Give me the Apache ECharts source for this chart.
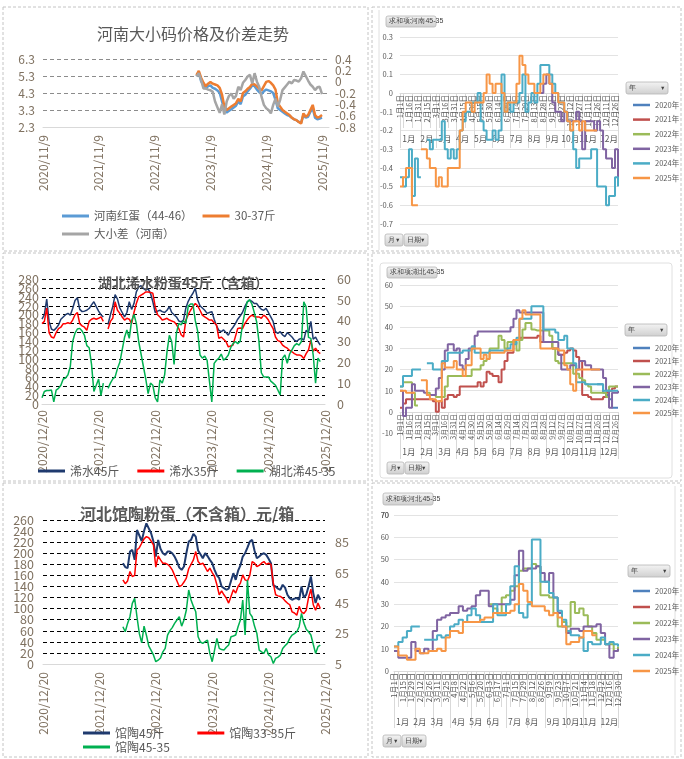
<!DOCTYPE html>
<html>
<head>
<meta charset="utf-8">
<script src="https://cdn.jsdelivr.net/npm/echarts@6/dist/echarts.min.js"></script>
<style>
html, body { margin: 0; padding: 0; background: #fff; }
#root { width: 684px; height: 759px; }
</style>
</head>
<body>
<div id="root"></div>
<script>
// ---- 河南大小码 (semi-monthly from 2020/11/9, values start at index 66)
var hnStart = 66;
var hnBig = [5.3, 5.5, 5.0, 4.75, 4.55, 4.7, 4.75, 4.6, 4.55, 4.45, 4.3, 3.8, 3.3, 3.15, 3.25, 3.35, 3.45, 3.55, 3.8, 3.65,
  4.1, 4.2, 4.4, 4.55, 4.75, 4.7, 4.5, 4.35, 4.25, 4.4, 4.5, 4.45, 4.4, 4.3, 3.9, 3.4, 3.3, 3.2, 3.1, 3.0,
  2.95, 2.85, 2.75, 2.7, 2.6, 2.55, 3.0, 2.85, 2.9, 3.2, 3.4, 2.85, 2.75, 2.8, 2.85];
var hnSmall = [5.35, 5.6, 5.2, 4.9, 4.7, 4.85, 4.95, 4.85, 4.8, 4.75, 4.6, 4.2, 3.5, 3.3, 3.4, 3.5, 3.6, 3.7, 3.95, 3.8,
  4.3, 4.4, 4.55, 4.65, 4.85, 4.8, 4.7, 4.55, 4.45, 4.7, 4.95, 5.0, 4.9, 4.75, 4.5, 3.7, 3.5, 3.3, 3.2, 3.1,
  3.0, 2.85, 2.75, 2.7, 2.6, 2.5, 3.1, 2.9, 3.0, 3.3, 3.6, 3.0, 2.85, 2.9, 3.0];
var hnDiff = [0.09, 0.15, 0.03, -0.12, -0.12, -0.14, -0.15, -0.18, -0.35, -0.45, -0.55, -0.4, -0.58, -0.35, -0.25, -0.21, -0.3, -0.25, -0.09, -0.15,
  -0.02, 0.03, 0.09, 0.12, -0.03, 0.15, 0.0, -0.09, -0.27, -0.41, -0.47, -0.5, -0.56, -0.41, -0.3, -0.44, -0.32, -0.15, -0.1, -0.05,
  0.0, -0.03, 0.03, 0.02, 0.0, 0.06, 0.18, 0.1, 0.02, -0.05, -0.09, -0.15, -0.1, -0.09, -0.22];

// ---- 湖北浠水 (semi-monthly from 2020/12/20)
var xsBig = [190, 200, 235, 185, 168, 165, 170, 177, 190, 195, 200, 203, 199, 214, 232, 238, 212, 207, 208, 210,
  214, 222, 229, 218, 208, 200, 195, null, 178, 200, 218, 245, 235, 215, 205, 195, 205, 229, 212, 225,
  251, 262, 265, 259, 255, 258, 248, 229, 205, 208, 210, 207, 205, 210, 218, 205, 200, 195, 186, 184,
  188, 215, 230, 240, 248, 259, 233, 220, 215, 210, 203, 205, 207, 190, 175, 165, 162, 166, 160, 154,
  165, 172, 180, 190, 197, 205, 218, 228, 233, 230, 225, 225, 218, 212, 210, 214, 205, 195, 185, 162,
  158, 162, 155, 151, 160, 155, 150, 143, 140, 145, 147, 143, 165, 160, 185, 145, 150, 140, 132];
var xsSmall = [180, 185, 215, 160, 150, 148, 160, 169, 172, 180, 180, 182, 180, 188, 200, 205, 180, 175, 172, 165,
  185, 190, 192, 190, 192, 195, 185, null, 168, 185, 192, 229, 210, 203, 195, 188, 192, 190, 180, 205,
  225, 240, 244, 247, 251, 251, 250, 248, 218, 200, 195, 188, 190, 192, 188, 186, 184, 178, 169, 155,
  150, 188, 200, 210, 218, 225, 220, 210, 199, 195, 192, 188, 188, 182, 177, 147, 150, 145, 140, 128,
  130, 132, 151, 169, 170, 169, 180, 188, 195, 199, 196, 195, 195, 192, 199, 195, 188, 178, 169, 150,
  142, 140, 132, 128, 125, 120, 117, 113, 110, 110, 108, 102, 113, 121, 143, 118, 125, 117, 113];
var xsDiff = [3, 6, 6.5, 6.5, 6.7, 1, 6.7, 7.5, 9, 12, 12.5, 14, 18, 30, 34, 36, 36.3, 35, 33, 28,
  27, 19, 6, 9, 12, 4, 10, null, 7.5, 10, 12, 13, 17, 20, 26, 32, 35.5, 31.5, 40, 43,
  38.7, 30, 24, 18, 12, 5, 10, 9, 3, 1, 11.5, 10, 14, 25, 33, 30, 19, 34, 38.7, 38,
  40, 38.7, 47, 48, 48, 40, 35, 23.5, 22, 23, 21, 11, 1, 19.5, 21, 22, 24, 21, 22, 23.5,
  27, 29, 30, 29, 30, 38, 44, 49, 50, 48, 44, 39.5, 30, 15, 13, 13, 13, 11, 10, 9,
  6.7, 4.3, 22, 23.5, 19.5, 24, 26, 28, 29, 28.3, 30, 49, 46.7, 32, 31.5, 23.5, 10, 22, 20.3];

// ---- 河北馆陶 (semi-monthly from 2020/12/20, values start at index 34)
var gtStart = 34;
var gtBig = [182, 175, 173, 203, 206, 188, 242, 232, 222, 240, 254, 245, 236, 221, 194, 224, 208, 200, 197, 203,
  203, 200, 194, 185, 174, 170, 176, 200, 221, 224, 235, 230, 205, 198, 191, 200, 195, 188, 182, 170,
  160, 155, 140, 137, 134, 136, 150, 164, 152, 168, 178, 194, 200, 210, 221, 224, 205, 191, 194, 198,
  200, 197, 190, 182, 142, 140, 136, 134, 143, 138, 125, 119, 116, 118, 119, 116, 140, 120, 125, 140,
  158, 128, 110, 125, 116];
var gtSmall = [152, 145, 150, 167, 158, 160, 206, 210, 218, 226, 230, 228, 222, 215, 175, 195, 188, 182, 182, 180,
  176, 170, 160, 150, 140, 142, 148, 155, 172, 180, 188, 203, 185, 180, 182, 175, 167, 173, 165, 158,
  143, 125, 132, 125, 119, 110, 122, 134, 128, 140, 146, 161, 152, 150, 160, 185, 182, 176, 178, 182,
  185, 180, 182, 180, 146, 125, 123, 122, 119, 114, 110, 107, 94, 92, 88, 104, 94, 91, 97, 120,
  135, 107, 97, 110, 100];
var gtDiff = [29.6, 26.3, 31.8, 36.2, 45, 48.3, 36, 25, 19, 30, 24, 17, 14, 11, 6.5, 7.5, 9, 13, 15.3, 24,
  27, 29, 31.8, 34, 36.2, 30, 34, 40.6, 53.8, 47.2, 43, 39.5, 23, 19.5, 18.6, 19.7, 20.8, 12, 6.5, 14.2,
  21.9, 15.3, 14.5, 14.2, 16, 17.5, 23, 23.5, 24.1, 29.6, 34, 47.2, 24.1, 60.4, 38.4, 36.2, 30, 25.2, 14.2, 13,
  12, 15.3, 11, 9.8, 5.4, 8.7, 9.5, 10.9, 15.3, 17, 18.6, 21.9, 24.1, 25, 26.3, 29.6, 38.4, 32, 28, 26.3,
  24.1, 18, 12, 16.4, 17.5];

// ---- 求和项:河南45-35 (every 5 days)
var hn2023Start = 46;
var hn2023 = [0.0, 0.0, 0.05, 0.1, 0.05, -0.05, -0.1, -0.1, -0.15, -0.1, -0.15, -0.15, -0.15, -0.1,
  -0.15, -0.3, -0.15, -0.15, -0.15, -0.2, -0.15, -0.2, -0.3, -0.35, -0.35, -0.4, -0.3, -0.45];
var hn2024 = [-0.45, -0.5, -0.45, -0.3, -0.55, -0.35, -0.45, null, null, -0.25, -0.3, -0.25, -0.25, -0.25, -0.15, -0.3, -0.35, -0.3, -0.35, -0.3,
  -0.2, -0.15, -0.1, -0.1, -0.05, -0.05, 0.0, -0.15, -0.2, -0.25, -0.25, -0.2, -0.25, -0.2, 0.1, -0.1, -0.05, -0.1, -0.05, -0.05,
  0.0, 0.1, -0.1, -0.05, 0.0, -0.05, 0.05, 0.15, 0.15, 0.15, 0.1, 0.05, 0.0, -0.05, -0.05, -0.1, -0.15, -0.2, -0.3, -0.4,
  -0.35, -0.35, -0.35, -0.35, -0.3, -0.3, -0.5, -0.5, -0.5, -0.6, -0.55, -0.55, -0.45, -0.5];
var hn2025 = [-0.5, -0.45, -0.4, -0.4, -0.6, -0.6, null, -0.3, -0.3, -0.35, -0.4, -0.4, -0.5, -0.45, -0.5, -0.5, -0.4, -0.4, -0.4, -0.4,
  -0.2, -0.1, -0.05, -0.05, -0.1, -0.05, -0.05, -0.05, 0.0, 0.1, 0.05, 0.0, 0.05, 0.05, 0.0, -0.1, -0.05, -0.05, -0.05, 0.05,
  0.2, 0.15, 0.1, 0.05, 0.05, 0.0, 0.0, 0.05, 0.1, 0.1, 0.05, 0.0, 0.0, -0.05, -0.05, -0.1, -0.15, -0.2, -0.15, -0.15,
  -0.2, -0.15, -0.2, -0.2, -0.2, -0.2];

// ---- 求和项:湖北45-35 (every 5 days)
var hub2020Start = 66;
var hub2020 = [13, 13, 9, 8, 6, 2, 2, 2];
var hub2021 = [2, 4, 6, 6, 6, 6, 6, 6, 6, 6, 6, 5, 0, 5, 2, 6, 8, 8, 7, 8,
  12, 12, 12, 12, 12, 12, 14, 12, 14, 19, 18, 17, 17, 14, 20, 24, 28, 28, 34, 34,
  35, 35, 35, 35, 35, 35, 36, 33, 33, 33, 33, 30, 30, 27, 27, 28, 29, 30, 29, 26,
  24, 8, 8, 7, 6, 6, 6, 6, 7, 9, 10, 11, 12, 12];
var hub2022 = [12, 14, 14, 14, 9, 3, null, null, null, 9, 8, 8, 7, 7, 7, 12, 17, 17, 17, 17,
  17, 17, 17, 17, 20, 20, 20, 22, 24, 25, 30, 30, 30, 36, 34, 30, 33, 33, 33, 29,
  34, 39, 42, 42, 39, 38.5, 38.5, 38.5, 38.5, 38.5, 36, 30, 24, 23, 23, 23, 23, 23, 18, 18,
  16, 15, 13, 12, 9, 9, 9, 9, 9, 7, 12, 12, 12, 12];
var hub2023 = [10, -2, 2, 2, 13, 10, 10, 10, 9, 8, 8, 8, 11, 16, 20, 29, 32, 32, 29, 30,
  22, 20, 25, 30, 30, 36, 38, 38, 38, 38, 38, 38, 38, 38, 38, 38, 38, 40, 44, 48,
  47, 47, 47, 47, 47, 47, 47, 47, 33, 33, 33, 33, 33, 27, 20, 20, 20, 22, 22, 20,
  24, 24, 22, 22, 20, 20, 20, 20, 16, 10, 2, 9, 9, 10];
var hub2024 = [12, 17, 17, 17, 20, 20, 20, null, null, 23, 23, 20, 20, 20, 24, 24, 28, 28, 28, 28,
  28, 29, 29, 29, 31, 28, 28, 28, 28, 28, 29, 29, 29, 29, 29, 29, 30, 32, 32, 35,
  44, 44, 44, 44, 50, 50, 50, 50, 39, 39, 39, 39, 37.5, 34, 34, 36, 30, 30, 23, 14,
  14, 14, 13, 13, 13, 13, 13, 13, 10, 10, 10, 10, 10, 10];
var hub2025 = [10, 10, 9, 9, 9, null, null, 15, 15, 8, 6, 6, 5, 5, 23, 21, 21, 21, 24, 20,
  20, 17, 22, 22, 30, 30, 30, 25, 27, 25, 28, 28, 28, 28, 28, 29, 29, 29, 34, 34,
  44, 48, 46, 46, 46, 46, 46, 30, 30, 30, 30, 30, 30, 29, 29, 22, 20, 13, 10, 20,
  20, 20, 20, 20, 20, 20, 20];

// ---- 求和项:河北45-35 (every 7 days)
var heb2022Start = 22;
var heb2022 = [30, 28, 26, 33, 34, 36, 38, 45, 46, 46, 48, 47, 34, 34, 33, 26, 20, 22, 20, 31,
  26, 28, 25, 20, 17, 14, 14, 12, 12, 9, 11];
var heb2023 = [9, 6, 6, 6, 13, 9, 8, 10, 9, 18, 23, 24, 25, 26, 26, 29, 27, 28, 29, 34,
  36, 36, 29, 30, 30, 30, 30, 32, 43, 54, 45, 46, 46, 47, 44, 40, 44, 33, 26, 20,
  17, 19, 19, 18, 20, 20, 20, 21, 17, 12, 6, 9, 10];
var heb2024 = [11, 13, 15, 18, 20, 20, null, 14, 14, 14, 16, 15, 16, 20, 21, 23, 22, 25, 28, 25,
  22, 22, 22, 30, 25, 25, 30, 38, 47, 26, 24, 30, 59, 59, 40, 40, 35, 33, 27, 23,
  18, 16, 16, 15, 9, 13, 12, 12, 15, 12, 13, 12, 11];
var heb2025 = [11, 7, 7, 5, 5, 10, 8, 8, 9, 9, 10, 9, 15, 18, 18, 17, 22, 22, 22, 22,
  23, 24, 24, 26, 26, 26, 26, 27, 30, 39, 36, 31, 29, 29, 29, 27, 25, 26, 24, 20,
  12, 13, 13, 15, 18, 18, 16];

var yearNames = ['2020年', '2021年', '2022年', '2023年', '2024年', '2025年'];
var yearColors = ['#4F81BD', '#C0504D', '#9BBB59', '#8064A2', '#4BACC6', '#F79646'];

function pad(start, vals, total) {
    var out = [];
    for (var i = 0; i < total; i++) {
        var j = i - start;
        out.push(j >= 0 && j < vals.length ? vals[j] : null);
    }
    return out;
}
function semiMonthly(y, m, d, n) {
    var out = [];
    for (var i = 0; i < n; i++) {
        var mm, dd;
        if (i % 2 === 0) { mm = m + i / 2; dd = d; }
        else if (d > 15) { mm = m + (i + 1) / 2; dd = d - 15; }
        else { mm = m + (i - 1) / 2; dd = d + 15; }
        var yy = y + Math.floor((mm - 1) / 12);
        mm = (mm - 1) % 12 + 1;
        out.push(yy + '/' + mm + '/' + dd);
    }
    return out;
}
function dayCats(step, n) {
    var out = [];
    for (var k = 0; k < n; k++) {
        var t = new Date(Date.UTC(2020, 0, 1 + k * step));
        out.push((t.getUTCMonth() + 1) + '月' + t.getUTCDate() + '日');
    }
    return out;
}
function monthMarks(cats) {
    var groups = {}, first = {}, mid = {};
    cats.forEach(function (c, k) {
        var m = parseInt(c, 10);
        (groups[m] = groups[m] || []).push(k);
    });
    Object.keys(groups).forEach(function (m) {
        var g = groups[m];
        first[g[0]] = true;
        mid[g[Math.floor((g.length - 1) / 2)]] = true;
    });
    first[cats.length - 1] = true;
    return { first: first, mid: mid };
}

var hnDates = semiMonthly(2020, 11, 9, 124);
var hbDates = semiMonthly(2020, 12, 20, 121);
var days5 = dayCats(5, 74);
var days7 = dayCats(7, 53);
var marks5 = monthMarks(days5);
var marks7 = monthMarks(days7);

var labelBrown = '#7f7160';
var gray = '#595959';

function lineSeries(name, x, y, data, color, width, step) {
    return {
        name: name, type: 'line', xAxisIndex: x, yAxisIndex: y, data: data,
        symbol: 'none', step: step || false, connectNulls: false,
        lineStyle: { color: color, width: width }, itemStyle: { color: color }
    };
}
function dashedSplit(color, count) {
    var cols = ['rgba(0,0,0,0)'];
    for (var i = 1; i < count; i++) cols.push(color);
    return { show: true, lineStyle: { color: cols, type: [4, 3], width: 1 } };
}
function hiddenX(grid, cats) {
    return { type: 'category', gridIndex: grid, data: cats, boundaryGap: false, show: false };
}
function dateAxis(grid, cats, fs, labelEvery, tickLen) {
    return {
        type: 'category', gridIndex: grid, data: cats, boundaryGap: false, position: 'bottom',
        axisLine: { show: true, onZero: false, lineStyle: { color: '#D9D9D9' } },
        axisTick: {
            show: true, length: tickLen, lineStyle: { color: '#D9D9D9' },
            interval: function (idx) { return idx % labelEvery === 1; }
        },
        axisLabel: { rotate: 90, interval: labelEvery - 1, fontSize: fs, color: gray, margin: 2 }
    };
}
function monthAxis(grid, cats, marks, tickLen, margin) {
    return {
        type: 'category', gridIndex: grid, data: cats, boundaryGap: false, position: 'bottom',
        axisLine: { show: false, onZero: false },
        axisTick: {
            show: true, length: tickLen, lineStyle: { color: '#D9D9D9' },
            interval: function (idx) { return !!marks.first[idx]; }
        },
        axisLabel: {
            interval: function (idx) { return !!marks.mid[idx]; },
            formatter: function (v) { return parseInt(v, 10) + '月'; },
            fontSize: 8.5, color: gray, margin: margin
        }
    };
}
function valueAxis(grid, pos, min, max, interval, split, labels) {
    return {
        type: 'value', gridIndex: grid, position: pos, min: min, max: max, interval: interval,
        axisLine: { show: false }, axisTick: { show: false },
        splitLine: split || { show: false },
        axisLabel: labels || { show: false }
    };
}
function hiddenY(grid) {
    return { type: 'value', gridIndex: grid, show: false, min: 0, max: 1 };
}
function yearSeries(x, y, arrays) {
    return arrays.map(function (a, i) {
        return lineSeries(yearNames[i], x, y, a, yearColors[i], 2, 'end');
    });
}
function yearLegend(left, top, gap) {
    return {
        data: yearNames, orient: 'vertical', left: left, top: top, itemGap: gap,
        icon: 'rect', itemWidth: 17, itemHeight: 2.5,
        textStyle: { fontSize: 7.5, color: gray, lineHeight: 10 }
    };
}
function panel(x, y, w, h) {
    return {
        type: 'rect', silent: true, z: -10, shape: { x: x, y: y, width: w, height: h },
        style: { fill: 'none', stroke: '#C4C4C4', lineWidth: 1, lineDash: [3, 2] }
    };
}
function button(x, y, w, h, label, arrow) {
    var kids = [
        {
            type: 'rect', shape: { x: x, y: y, width: w, height: h, r: 2 },
            style: {
                fill: { type: 'linear', x: 0, y: 0, x2: 0, y2: 1, colorStops: [{ offset: 0, color: '#F4F4F4' }, { offset: 1, color: '#CFCFCF' }] },
                stroke: '#B5B5B5', lineWidth: 0.8
            }
        },
        { type: 'text', x: x + 2.5, y: y + h / 2, style: { text: label, fontSize: 7, fill: '#404040', verticalAlign: 'middle' } }
    ];
    if (arrow) kids.push({ type: 'text', x: x + w - 2.5, y: y + h / 2, style: { text: '▼', fontSize: 5.5, fill: '#404040', align: 'right', verticalAlign: 'middle' } });
    return { type: 'group', silent: true, children: kids };
}
function leftX(grid, cats, margin) {
    return {
        type: 'category', gridIndex: grid, data: cats, boundaryGap: false,
        axisLine: { onZero: false, lineStyle: { color: '#D9D9D9' } }, axisTick: { show: false },
        axisLabel: { rotate: 90, interval: 23, fontSize: 12, color: labelBrown, margin: margin }
    };
}
function lbl(fs, color, margin, fmt, hideMax, hideMin) {
    var o = { fontSize: fs, color: color, margin: margin, showMinLabel: !hideMin, showMaxLabel: !hideMax };
    if (fmt) o.formatter = fmt;
    return o;
}
var oneDec = function (v) { return String(parseFloat(v.toFixed(1))); };

var grids = [
    { left: 43, top: 59, width: 286, height: 68 },
    { left: 42, top: 279, width: 283, height: 125 },
    { left: 43, top: 520, width: 282, height: 144 },
    // 河南45-35: plot, date strip, month strip
    { left: 400, top: 37, width: 218, height: 187 },
    { left: 400, top: 92, width: 218, height: 1 },
    { left: 400, top: 92, width: 218, height: 1 },
    // 湖北45-35
    { left: 400, top: 285, width: 218, height: 148 },
    { left: 400, top: 411, width: 218, height: 1 },
    { left: 400, top: 411, width: 218, height: 1 },
    // 河北45-35
    { left: 394, top: 515, width: 224, height: 156 },
    { left: 394, top: 670, width: 224, height: 1 },
    { left: 394, top: 670, width: 224, height: 1 }
];
var xAxes = [
    leftX(0, hnDates, 8),
    leftX(1, hbDates, 6),
    leftX(2, hbDates, 8),
    hiddenX(3, days5), dateAxis(4, days5, 7.5, 3, 35), monthAxis(5, days5, marks5, 55, 42),
    hiddenX(6, days5), dateAxis(7, days5, 7, 3, 28), monthAxis(8, days5, marks5, 47, 36),
    hiddenX(9, days7), dateAxis(10, days7, 8, 2, 36), monthAxis(11, days7, marks7, 57, 47)
];
var yAxes = [
    valueAxis(0, 'left', 2.3, 6.3, 1, dashedSplit('#8C8C8C', 5), lbl(12, labelBrown, 8, function (v) { return v.toFixed(1); })),
    valueAxis(0, 'right', -0.8, 0.4, 0.2, null, null),
    valueAxis(1, 'left', 0, 280, 20, dashedSplit('#000000', 15), null),
    valueAxis(1, 'right', 0, 60, 10, null, lbl(12.5, labelBrown, 12)),
    valueAxis(2, 'left', 0, 260, 20, dashedSplit('#000000', 14), null),
    valueAxis(2, 'right', 5, 100, 20, null, lbl(12.5, labelBrown, 10, null, true)),
    valueAxis(3, 'left', -0.7, 0.3, 0.1, { lineStyle: { color: '#E3E3E3' } }, lbl(7.5, gray, 7, oneDec)),
    hiddenY(4), hiddenY(5),
    valueAxis(6, 'left', -10, 60, 10, { lineStyle: { color: '#E3E3E3' } }, lbl(7.5, gray, 7)),
    hiddenY(7), hiddenY(8),
    valueAxis(9, 'left', 0, 70, 10, { lineStyle: { color: '#E3E3E3' } }, null),
    hiddenY(10), hiddenY(11)
];
// tick labels too dense for one axis are split over label-only axes with the same scale
function labelAxis(left, width, top, height, pos, min, max, interval, labels) {
    var gi = grids.length;
    grids.push({ left: left, top: top, width: width, height: height });
    xAxes.push({ type: 'value', gridIndex: gi, show: false });
    yAxes.push(valueAxis(gi, pos, min, max, interval, null, labels));
}
// 河南 right axis: -0.8..0.4 over 68px
labelAxis(43, 286, 59, 68, 'right', -0.8, 0.4, 0.4, lbl(12, labelBrown, 6, oneDec));
labelAxis(43, 286, 59 + 68 * 0.2 / 1.2, 68 * 0.8 / 1.2, 'right', -0.6, 0.2, 0.4, lbl(12, labelBrown, 6, oneDec));
// 浠水 left axis: 0..280 over 125px
labelAxis(42, 283, 279, 125, 'left', 0, 280, 40, lbl(12.5, labelBrown, 3));
labelAxis(42, 283, 279 + 125 * 20 / 280, 125 * 240 / 280, 'left', 20, 260, 40, lbl(12.5, labelBrown, 3));
// 馆陶 left axis: 0..260 over 144px
labelAxis(43, 282, 520, 144, 'left', 0, 260, 40, lbl(12.5, labelBrown, 9, null, true));
labelAxis(43, 282, 520, 144 * 240 / 260, 'left', 20, 260, 40, lbl(12.5, labelBrown, 9));
// 河北45-35 axis: 0..70 over 156px; the top label 70 gets its own short axis
labelAxis(394, 224, 515 + 156 / 7, 156 * 6 / 7, 'left', 0, 60, 20, lbl(7.5, gray, 5));
labelAxis(394, 224, 515 - 156 * 2 / 7, 156 * 8 / 7, 'left', 10, 90, 20, lbl(7.5, gray, 5, null, true));
labelAxis(394, 224, 515 - 156 / 14, 156 / 7, 'left', 65, 75, 5, lbl(7.5, gray, 5, null, true, true));

var chart = echarts.init(document.getElementById('root'));
var option = {
    animation: false,
    textStyle: { fontFamily: '"Noto Sans CJK SC", "Noto Sans", sans-serif' },
    title: [
        { text: '河南大小码价格及价差走势', left: 92, top: 21, textStyle: { fontSize: 16, fontWeight: 'normal', color: gray } },
        { text: '湖北浠水粉蛋45斤（含箱）', left: 93, top: 271, textStyle: { fontSize: 14, fontWeight: 'bold', color: gray } },
        { text: '河北馆陶粉蛋（不含箱）元/箱', left: 75, top: 501, textStyle: { fontSize: 16, fontWeight: 'bold', color: gray } }
    ],
    legend: [
        { data: ['河南红蛋（44-46）', '30-37斤'], left: 57, top: 204, itemGap: 10, icon: 'rect', itemWidth: 27, itemHeight: 3, textStyle: { fontSize: 11.5, color: gray, lineHeight: 14 } },
        { data: ['大小差（河南）'], left: 57, top: 222, icon: 'rect', itemWidth: 27, itemHeight: 3, textStyle: { fontSize: 11.5, color: gray, lineHeight: 14 } },
        { data: ['浠水45斤', '浠水35斤', '湖北浠45-35'], left: 33, top: 459, itemGap: 18, icon: 'rect', itemWidth: 27, itemHeight: 3, textStyle: { fontSize: 12, color: gray, lineHeight: 14 } },
        { data: ['馆陶45斤', '馆陶33-35斤'], left: 78, top: 721, itemGap: 33, icon: 'rect', itemWidth: 27, itemHeight: 3, textStyle: { fontSize: 12, color: gray, lineHeight: 14 } },
        { data: ['馆陶45-35'], left: 78, top: 735, icon: 'rect', itemWidth: 27, itemHeight: 3, textStyle: { fontSize: 12, color: gray, lineHeight: 14 } },
        yearLegend(628, 95, 4.6),
        yearLegend(628, 338, 3),
        yearLegend(628, 581, 6)
    ],
    grid: grids,
    xAxis: xAxes,
    yAxis: yAxes,
    series: [
        lineSeries('河南红蛋（44-46）', 0, 0, pad(hnStart, hnBig, 124), '#5B9BD5', 2.5),
        lineSeries('30-37斤', 0, 0, pad(hnStart, hnSmall, 124), '#ED7D31', 2.5),
        lineSeries('大小差（河南）', 0, 1, pad(hnStart, hnDiff, 124), '#A5A5A5', 2.5),

        lineSeries('浠水45斤', 1, 2, pad(0, xsBig, 121), '#1F3A6E', 1.5),
        lineSeries('浠水35斤', 1, 2, pad(0, xsSmall, 121), '#FF0000', 1.5),
        lineSeries('湖北浠45-35', 1, 3, pad(0, xsDiff, 121), '#00B050', 1.5),

        lineSeries('馆陶45斤', 2, 4, pad(gtStart, gtBig, 121), '#1F3A6E', 2),
        lineSeries('馆陶33-35斤', 2, 4, pad(gtStart, gtSmall, 121), '#FF0000', 1.5),
        lineSeries('馆陶45-35', 2, 5, pad(gtStart, gtDiff, 121), '#00B050', 1.5)
    ].concat(
        yearSeries(3, 6, [[], [], [], pad(hn2023Start, hn2023, 74), hn2024, pad(0, hn2025, 74)]),
        yearSeries(6, 9, [pad(hub2020Start, hub2020, 74), hub2021, hub2022, hub2023, hub2024, pad(0, hub2025, 74)]),
        yearSeries(9, 12, [[], [], pad(heb2022Start, heb2022, 53), heb2023, heb2024, pad(0, heb2025, 53)])
    ),
    graphic: [
        panel(3, 7, 365, 244), panel(3, 253, 365, 228), panel(3, 483, 365, 274),
        panel(372, 7, 309, 244), panel(372, 253, 309, 228), panel(372, 483, 309, 274),
        { type: 'line', silent: true, shape: { x1: 379, y1: 10, x2: 379, y2: 250 }, style: { stroke: '#E0E0E0', lineWidth: 1 } },
        { type: 'rect', silent: true, z: -5, shape: { x: 380, y: 263, width: 292, height: 215, r: 3 }, style: { fill: 'none', stroke: '#E0E0E0', lineWidth: 1 } },
        { type: 'line', silent: true, shape: { x1: 675, y1: 486, x2: 675, y2: 755 }, style: { stroke: '#E0E0E0', lineWidth: 1 } },
        button(386, 16, 50, 11, '求和项:河南45-35', false),
        button(626, 82, 42, 12, '年', true),
        button(385, 234, 18, 12, '月', true),
        button(404, 234, 24, 12, '日期', true),
        button(387, 267, 50, 11, '求和项:湖北45-35', false),
        button(625, 324, 42, 12, '年', true),
        button(387, 462, 17, 12, '月', true),
        button(405, 462, 24, 12, '日期', true),
        button(383, 493, 50, 12, '求和项:河北45-35', false),
        button(628, 565, 42, 12, '年', true),
        button(383, 735, 18, 12, '月', true),
        button(402, 735, 24, 12, '日期', true)
    ]
};
chart.setOption(option);
</script>
</body>
</html>
